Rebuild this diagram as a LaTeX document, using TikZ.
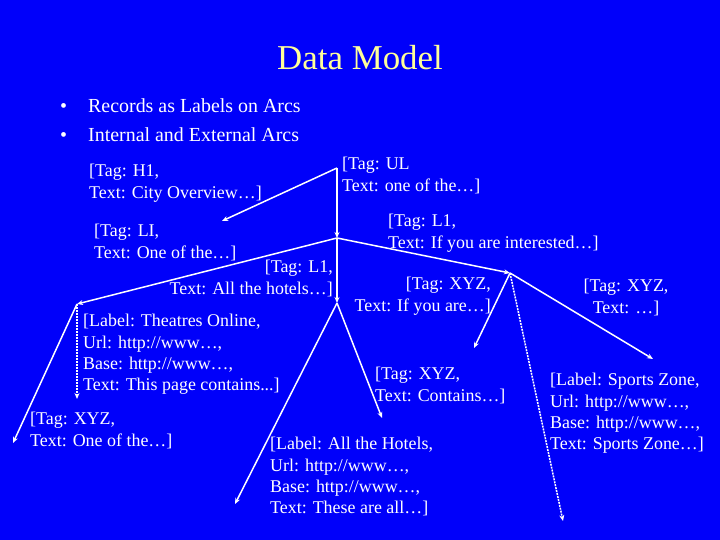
\documentclass[tikz,border=0pt]{standalone}
\usepackage{fontspec}
\setmainfont{Liberation Serif}
\usetikzlibrary{arrows.meta}
\definecolor{slideblue}{RGB}{0,0,250}
\definecolor{titleyellow}{RGB}{255,255,153}
\begin{document}
\begin{tikzpicture}[x=1bp,y=-1bp,
  txt/.style={text=white,inner sep=0pt,font=\fontsize{18}{21.5}\selectfont,align=left,anchor=north west},
  bul/.style={text=white,inner sep=0pt,font=\fontsize{20}{24}\selectfont,anchor=base west},
  arc/.style={draw=white,line width=1.5bp,-{Stealth[length=6bp,width=5bp]}},
  extarc/.style={arc,dash pattern=on 2bp off 1bp}]
\useasboundingbox (0,0) rectangle (720,540);
\fill[slideblue] (0,0) rectangle (720,540);
% title and bullets
\node[text=titleyellow,inner sep=0pt,font=\fontsize{35}{42}\selectfont] (title) at (360,57.5) {Data Model};
\node[bul] (d1) at (60,113) {•};
\node[bul] (b1) at (88,113) {Records as Labels on Arcs};
\node[bul] (d2) at (60,142) {•};
\node[bul] (b2) at (88,142) {Internal and External Arcs};
% graph points
\coordinate (R) at (337,168);
\coordinate (A) at (337,238);
\coordinate (B) at (77,304);
\coordinate (C) at (510,273);
\coordinate (D) at (337,303);
\coordinate (H) at (222,221);
\coordinate (E1) at (13,443);
\coordinate (E2) at (77,399);
\coordinate (E3) at (235,504);
\coordinate (E4) at (382,418);
\coordinate (E5) at (474,348);
\coordinate (E6) at (563,521);
\coordinate (E7) at (653,359);
% arcs
\draw[arc] (R) -- (H);
\draw[arc] (R) -- (A);
\draw[arc] (A) -- (B);
\draw[arc] (A) -- (C);
\draw[arc] (A) -- (D);
\draw[arc] (B) -- (E1);
\draw[extarc] (B) -- (E2);
\draw[arc] (D) -- (E3);
\draw[arc] (D) -- (E4);
\draw[arc] (C) -- (E5);
\draw[extarc] (C) -- (E6);
\draw[arc] (C) -- (E7);
% labels
\node[txt] (h1) at (89,164) {[Tag: H1,\\Text: City Overview…]};
\node[txt] (ul) at (342,157) {[Tag: UL\\Text: one of the…]};
\node[txt] (li) at (94,224) {[Tag: LI,\\Text: One of the…]};
\node[txt,align=right,anchor=north east] (l1a) at (333,260) {[Tag: L1,\\Text: All the hotels…]};
\node[txt] (l1b) at (388,214) {[Tag: L1,\\Text: If you are interested…]};
\node[txt,align=right,anchor=north east] (xyza) at (491,277) {[Tag: XYZ,\\Text: If you are…]};
\node[txt,align=center,anchor=north] (xyzb) at (626,279) {[Tag: XYZ,\\Text: …]};
\node[txt] (theat) at (83,314) {[Label: Theatres Online,\\Url: http://www…,\\Base: http://www…,\\Text: This page contains...]};
\node[txt] (xyzc) at (30,412) {[Tag: XYZ,\\Text: One of the…]};
\node[txt] (xyzd) at (375,367) {[Tag: XYZ,\\Text: Contains…]};
\node[txt] (hotels) at (270,437) {[Label: All the Hotels,\\Url: http://www…,\\Base: http://www…,\\Text: These are all…]};
\node[txt] (sports) at (550,373) {[Label: Sports Zone,\\Url: http://www…,\\Base: http://www…,\\Text: Sports Zone…]};
\end{tikzpicture}
\end{document}
